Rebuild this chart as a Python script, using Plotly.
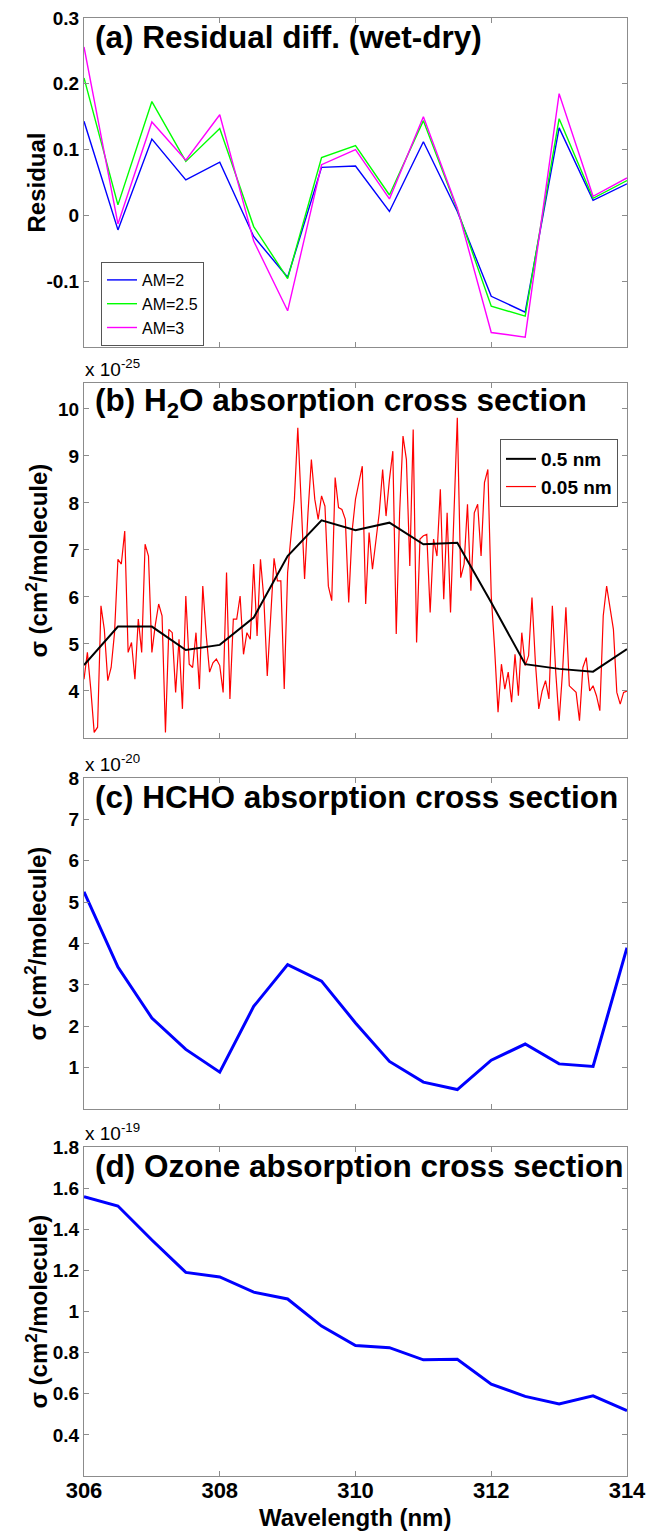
import numpy as np
import plotly.graph_objects as go

W, H = 647, 1534
FONT = "Liberation Sans, Arial, Helvetica, sans-serif"

# Wavelength grids (nm)
wl = [306.0, 306.5, 307.0, 307.5, 308.0, 308.5, 309.0, 309.5, 310.0,
      310.5, 311.0, 311.5, 312.0, 312.5, 313.0, 313.5, 314.0]
wl_fine = np.linspace(306.0, 314.0, 161)

# (a) residual difference wet-dry for three air masses
res_am2 = [0.143, -0.022, 0.116, 0.054, 0.081, -0.032, -0.094, 0.073, 0.075,
           0.006, 0.112, 0.006, -0.123, -0.147, 0.133, 0.023, 0.048]
res_am25 = [0.209, 0.016, 0.173, 0.082, 0.132, -0.017, -0.096, 0.088, 0.106,
            0.031, 0.144, 0.009, -0.138, -0.153, 0.147, 0.026, 0.053]
res_am3 = [0.256, -0.013, 0.142, 0.084, 0.153, -0.039, -0.145, 0.077, 0.100,
           0.025, 0.150, 0.011, -0.178, -0.185, 0.185, 0.029, 0.057]

# (b) H2O cross section, units of 1e-25 cm^2/molecule
h2o_05nm = [4.55, 5.37, 5.37, 4.87, 4.98, 5.56, 6.87, 7.63, 7.42,
            7.58, 7.12, 7.15, 5.88, 4.57, 4.47, 4.41, 4.89]
h2o_005nm = [
    4.25, 4.82, 4.04, 3.12, 3.23, 5.81, 5.30, 4.22, 4.50, 5.24,
    6.80, 6.70, 7.40, 4.82, 5.03, 4.25, 5.53, 4.82, 7.12, 6.87,
    4.82, 5.40, 5.85, 5.60, 3.12, 5.31, 5.24, 3.97, 5.10, 3.62,
    6.02, 4.57, 4.50, 5.24, 4.04, 6.23, 5.20, 4.40, 4.60, 4.68,
    4.54, 3.97, 6.52, 3.83, 5.53, 5.53, 6.02, 4.78, 5.24, 5.10,
    6.70, 5.17, 6.80, 5.95, 4.32, 5.50, 6.82, 6.34, 6.34, 4.04,
    6.52, 7.30, 8.08, 9.60, 8.08, 6.38, 7.79, 8.92, 8.08, 7.65,
    8.15, 7.93, 6.23, 5.92, 8.54, 7.90, 7.86, 7.65, 5.88, 7.40,
    8.08, 8.40, 8.78, 5.85, 7.37, 6.59, 7.20, 7.79, 8.71, 7.72,
    8.50, 9.10, 5.21, 7.79, 9.42, 8.92, 6.66, 9.56, 5.03, 7.23,
    7.30, 7.33, 5.67, 7.23, 6.87, 8.29, 5.95, 7.79, 5.67, 7.80,
    9.81, 6.41, 6.70, 7.97, 6.13, 7.79, 7.97, 6.87, 8.43, 8.71,
    6.02, 4.89, 3.55, 4.57, 4.04, 4.40, 3.76, 4.78, 3.90, 5.24,
    4.54, 4.75, 5.99, 4.61, 3.62, 4.00, 4.22, 3.83, 5.81, 4.40,
    3.37, 4.40, 5.78, 4.11, 4.04, 3.97, 3.37, 4.50, 4.71, 4.00,
    4.11, 3.90, 3.58, 5.60, 6.23, 5.80, 5.31, 3.97, 3.72, 3.97,
    4.00,
]

# (c) HCHO cross section, units of 1e-20 cm^2/molecule
hcho = [5.25, 3.43, 2.20, 1.44, 0.89, 2.48, 3.49, 3.09, 2.08,
        1.15, 0.65, 0.47, 1.18, 1.57, 1.09, 1.03, 3.90]

# (d) O3 cross section, units of 1e-19 cm^2/molecule
ozone = [1.558, 1.513, 1.348, 1.190, 1.168, 1.094, 1.061, 0.929, 0.835,
         0.824, 0.765, 0.768, 0.647, 0.587, 0.550, 0.590, 0.518]

# tick labels
x_ticks = [306, 308, 310, 312, 314]
x_ticktext = ["306", "308", "310", "312", "314"]
ya_ticks = [-0.1, 0, 0.1, 0.2, 0.3]
ya_text = ["-0.1", "0", "0.1", "0.2", "0.3"]
yb_ticks = [4, 5, 6, 7, 8, 9, 10]
yc_ticks = [1, 2, 3, 4, 5, 6, 7, 8]
yd_ticks = [0.4, 0.6, 0.8, 1.0, 1.2, 1.4, 1.6, 1.8]
yd_text = ["0.4", "0.6", "0.8", "1", "1.2", "1.4", "1.6", "1.8"]

# panel frames in pixels (top, bottom)
X0, X1 = 84, 627
boxes = [(18, 347), (383, 738), (778, 1109), (1147, 1476)]


def fx(p):
    return p / W


def fy(p):
    return 1 - p / H


fig = go.Figure()

fig.add_trace(go.Scatter(x=wl, y=res_am2, mode="lines", name="AM=2",
                         line=dict(color="#0000ff", width=1.4),
                         xaxis="x", yaxis="y", legend="legend"))
fig.add_trace(go.Scatter(x=wl, y=res_am25, mode="lines", name="AM=2.5",
                         line=dict(color="#00ff00", width=1.4),
                         xaxis="x", yaxis="y", legend="legend"))
fig.add_trace(go.Scatter(x=wl, y=res_am3, mode="lines", name="AM=3",
                         line=dict(color="#ff00ff", width=1.4),
                         xaxis="x", yaxis="y", legend="legend"))

fig.add_trace(go.Scatter(x=wl_fine, y=h2o_005nm, mode="lines", name="0.05 nm",
                         line=dict(color="#ff0000", width=1.2), legendrank=2,
                         xaxis="x2", yaxis="y2", legend="legend2"))
fig.add_trace(go.Scatter(x=wl, y=h2o_05nm, mode="lines", name="0.5 nm",
                         line=dict(color="#000000", width=2), legendrank=1,
                         xaxis="x2", yaxis="y2", legend="legend2"))

fig.add_trace(go.Scatter(x=wl, y=hcho, mode="lines", showlegend=False,
                         line=dict(color="#0000ff", width=3),
                         xaxis="x3", yaxis="y3"))
fig.add_trace(go.Scatter(x=wl, y=ozone, mode="lines", showlegend=False,
                         line=dict(color="#0000ff", width=3),
                         xaxis="x4", yaxis="y4"))

frame = dict(showline=True, linecolor="#8c8c8c", linewidth=1, mirror="allticks",
             ticks="inside", ticklen=5, tickcolor="#8c8c8c", showgrid=False,
             zeroline=False)
ytickfont = dict(family=FONT, size=19, color="black", weight="bold")
xtickfont = dict(family=FONT, size=22, color="black", weight="bold")

layout = dict(width=W, height=H, autosize=False,
              margin=dict(l=0, r=0, t=0, b=0, autoexpand=False),
              paper_bgcolor="white", plot_bgcolor="white",
              font=dict(family=FONT, color="black"))

y_specs = [
    dict(range=[-0.2, 0.3], tickvals=ya_ticks, ticktext=ya_text),
    dict(range=[3, 10.55], tickvals=yb_ticks),
    dict(range=[0, 8], tickvals=yc_ticks),
    dict(range=[0.2, 1.8], tickvals=yd_ticks, ticktext=yd_text),
]

for k, (top, bot) in enumerate(boxes):
    sfx = "" if k == 0 else str(k + 1)
    last = k == len(boxes) - 1
    layout["xaxis" + sfx] = dict(
        frame, domain=[fx(X0), fx(X1)], range=[306, 314],
        anchor="y" + sfx, tickvals=x_ticks, ticktext=x_ticktext,
        showticklabels=last, tickfont=xtickfont, ticklabelstandoff=-5,
        automargin=False)
    layout["yaxis" + sfx] = dict(
        frame, domain=[fy(bot), fy(top)], anchor="x" + sfx,
        tickfont=ytickfont, automargin=False, **y_specs[k])

layout["legend"] = dict(
    x=fx(101), y=fy(262), xanchor="left", yanchor="top",
    bgcolor="white", bordercolor="#555", borderwidth=1,
    font=dict(family=FONT, size=16, color="black"), tracegroupgap=0)
layout["legend2"] = dict(
    x=fx(500), y=fy(439), xanchor="left", yanchor="top",
    bgcolor="white", bordercolor="#555", borderwidth=1,
    font=dict(family=FONT, size=19, color="black", weight="bold"),
    tracegroupgap=0)

titles = [
    "(a) Residual diff. (wet-dry)",
    "(b) H<sub>2</sub>O absorption cross section",
    "(c) HCHO absorption cross section",
    "(d) Ozone absorption cross section",
]
ylabels = [
    "Residual",
    "σ (cm<sup>2</sup>/molecule)",
    "σ (cm<sup>2</sup>/molecule)",
    "σ (cm<sup>2</sup>/molecule)",
]
exponents = [None, "-25", "-20", "-19"]

ann = []
for k, (top, bot) in enumerate(boxes):
    ann.append(dict(xref="paper", yref="paper", x=fx(93), y=fy(top + 19),
                    xanchor="left", yanchor="middle", showarrow=False,
                    text=titles[k],
                    font=dict(family=FONT, size=31.5, color="black", weight="bold")))
    ann.append(dict(xref="paper", yref="paper", x=fx(36), y=fy((top + bot) / 2),
                    xanchor="center", yanchor="middle", showarrow=False,
                    textangle=-90, text=ylabels[k],
                    font=dict(family=FONT, size=24, color="black", weight="bold")))
    if exponents[k]:
        ann.append(dict(xref="paper", yref="paper", x=fx(83), y=fy(top - 1),
                        xanchor="left", yanchor="bottom", showarrow=False,
                        text="x 10<sup>" + exponents[k] + "</sup>",
                        font=dict(family=FONT, size=19, color="black")))

ann.append(dict(xref="paper", yref="paper", x=fx((X0 + X1) / 2), y=fy(1517),
                xanchor="center", yanchor="middle", showarrow=False,
                text="Wavelength (nm)",
                font=dict(family=FONT, size=24, color="black", weight="bold")))

layout["annotations"] = ann
fig.update_layout(**layout)

page_style = ("document.body.style.margin='0';"
              "document.body.style.overflow='hidden';")
fig.write_html("out.html", config={"responsive": False}, post_script=page_style)
